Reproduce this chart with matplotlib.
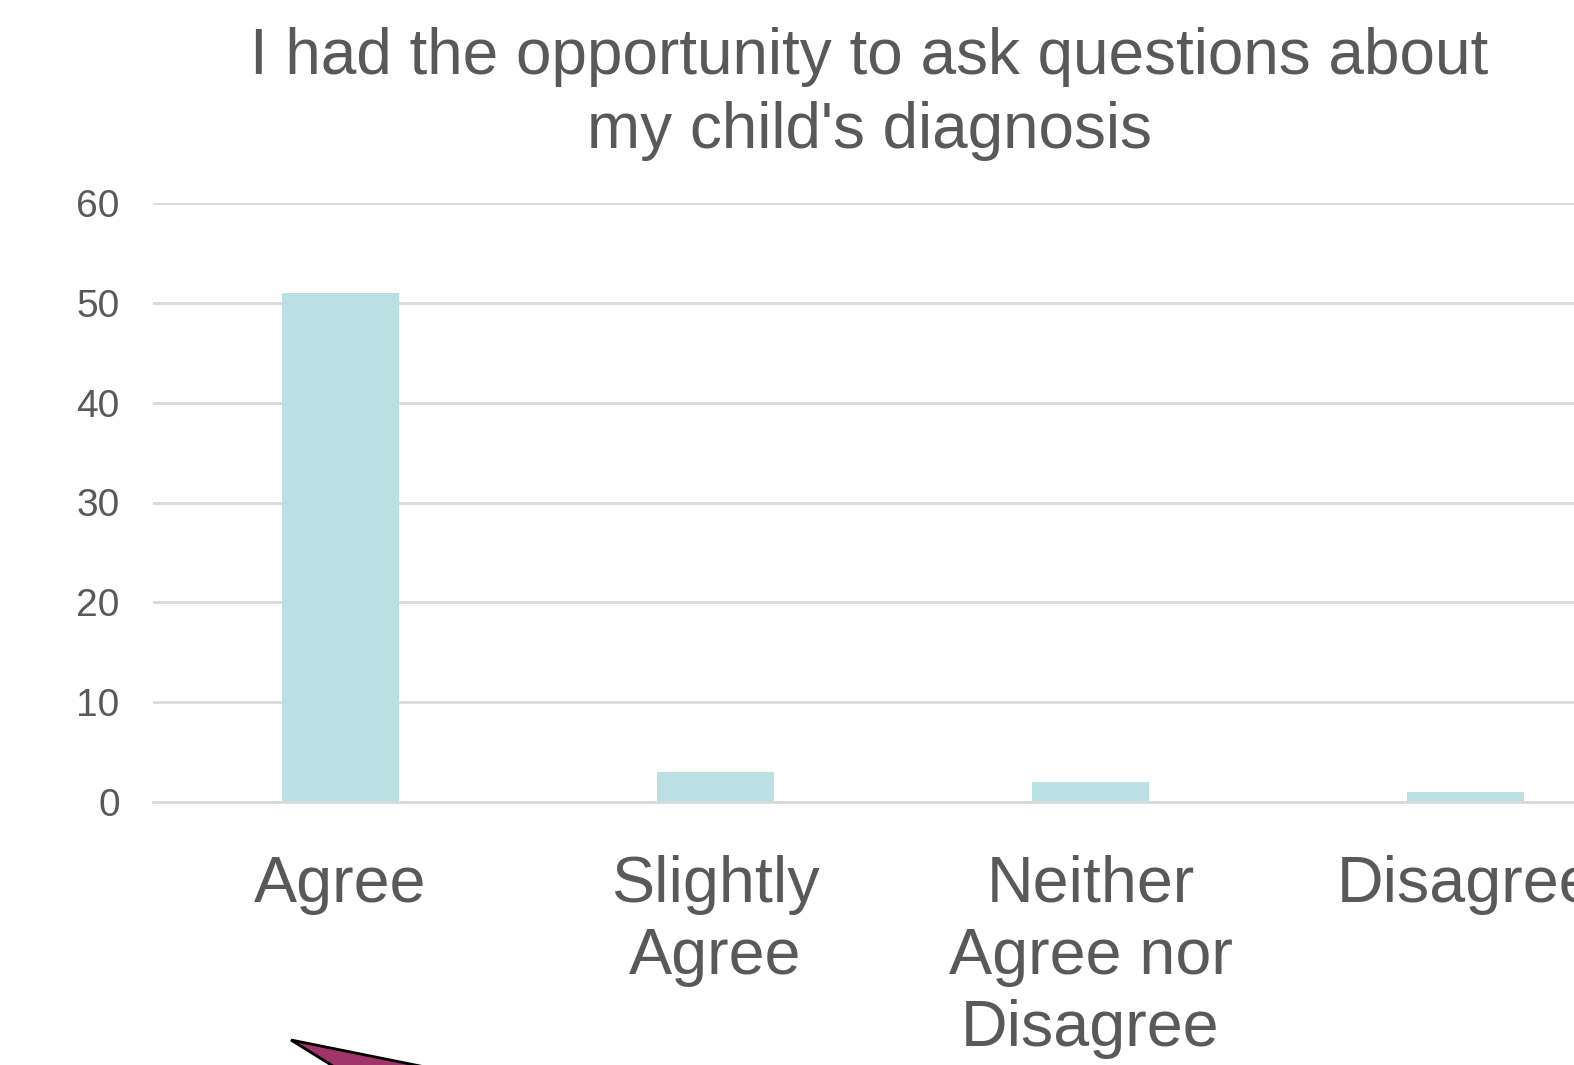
import matplotlib
matplotlib.use("Agg")
import matplotlib.pyplot as plt
from matplotlib.patches import Polygon

categories = ["Agree", "Slightly\nAgree", "Neither\nAgree nor\nDisagree", "Disagree"]
counts = [51, 3, 2, 1]
yticks = [0, 10, 20, 30, 40, 50, 60]
title = "I had the opportunity to ask questions about\nmy child's diagnosis"

W, H = 1574, 1065
fig = plt.figure(figsize=(W / 100, H / 100), dpi=100)
plt.rcParams["font.family"] = ["Liberation Sans", "DejaVu Sans"]

text_color = "#595959"
grid_color = "#D9D9D9"
bar_color = "#BAE0E3"

# plot area: left at 153 px, 375 px per category slot, y from 802 (0) to 203 (60)
left, slot = 153, 375
bottom_px, top_px = 802, 203
ax = fig.add_axes([left / W, 1 - bottom_px / H,
                   slot * len(categories) / W, (bottom_px - top_px) / H])

x = list(range(len(categories)))
ax.bar(x, counts, width=117 / slot, color=bar_color, zorder=3)
ax.set_xlim(-0.5, len(categories) - 0.5)
ax.set_ylim(0, 60)
ax.set_yticks(yticks)
ax.set_yticklabels([str(v) for v in yticks], fontsize=28, color=text_color)
ax.set_xticks(x)
ax.set_xticklabels(categories, fontsize=46.5, color=text_color, linespacing=1.26)
ax.tick_params(axis="y", length=0, pad=24)
ax.tick_params(axis="x", length=0, pad=38)
for lbl in ax.get_xticklabels():
    lbl.set_verticalalignment("top")

ax.grid(axis="y", color=grid_color, linewidth=2, zorder=0)
for s in ["top", "right", "left"]:
    ax.spines[s].set_visible(False)
ax.spines["bottom"].set_color(grid_color)
ax.spines["bottom"].set_linewidth(2)
ax.spines["bottom"].set_zorder(4)

fig.text(869 / W, 1 - 94 / H, title, ha="center", va="center",
         fontsize=46, color=text_color, linespacing=1.3)

# purple pointer shape entering from the bottom
tri = Polygon([(291 / W, 1 - 1040 / H), (430 / W, 1 - 1068 / H), (336 / W, 1 - 1068 / H)],
              closed=True, transform=fig.transFigure, facecolor="#9E3468",
              edgecolor="black", linewidth=2, clip_on=False)
fig.patches.append(tri)

fig.savefig("out.png", dpi=100)
